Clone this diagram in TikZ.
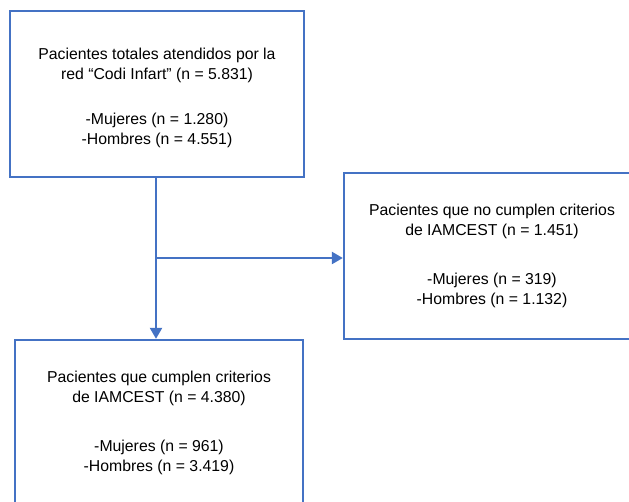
\documentclass[tikz,border=0pt]{standalone}
\usepackage{fontspec}
\setmainfont{Liberation Sans}
\usepackage{tikz}
\usetikzlibrary{arrows.meta}

\definecolor{azul}{HTML}{4472C4}

\begin{document}
\begin{tikzpicture}[x=1pt, y=-1pt,
  caja/.style={draw=azul, line width=2.3pt, align=center, inner sep=0pt,
    font=\fontsize{15.8}{20}\selectfont},
  flecha/.style={draw=azul, line width=2.3pt, -{Triangle[length=11pt,width=12pt]}}]

\useasboundingbox (0,0) rectangle (629,502);
\clip (0,0) rectangle (629,502);

\node[caja, minimum width=294pt, minimum height=166pt] (total) at (157,94)
  {\rule{0pt}{19pt}Pacientes totales atendidos por la\\red “Codi Infart” (n = 5.831)\\[25pt]-Mujeres (n = 1.280)\\-Hombres (n = 4.551)};

\node[caja, minimum width=296pt, minimum height=166pt] (nocumplen) at (492,256)
  {Pacientes que no cumplen criterios\\de IAMCEST (n = 1.451)\\[29pt]-Mujeres (n = 319)\\-Hombres (n = 1.132)};

\node[caja, minimum width=288pt, minimum height=166pt] (cumplen) at (159,423)
  {Pacientes que cumplen criterios\\de IAMCEST (n = 4.380)\\[29pt]-Mujeres (n = 961)\\-Hombres (n = 3.419)};

\coordinate (rama) at (156,258);

\draw[flecha] (total.south -| rama) -- (cumplen.north -| rama);
\draw[flecha] (rama) -- (rama -| nocumplen.west);

\end{tikzpicture}
\end{document}
